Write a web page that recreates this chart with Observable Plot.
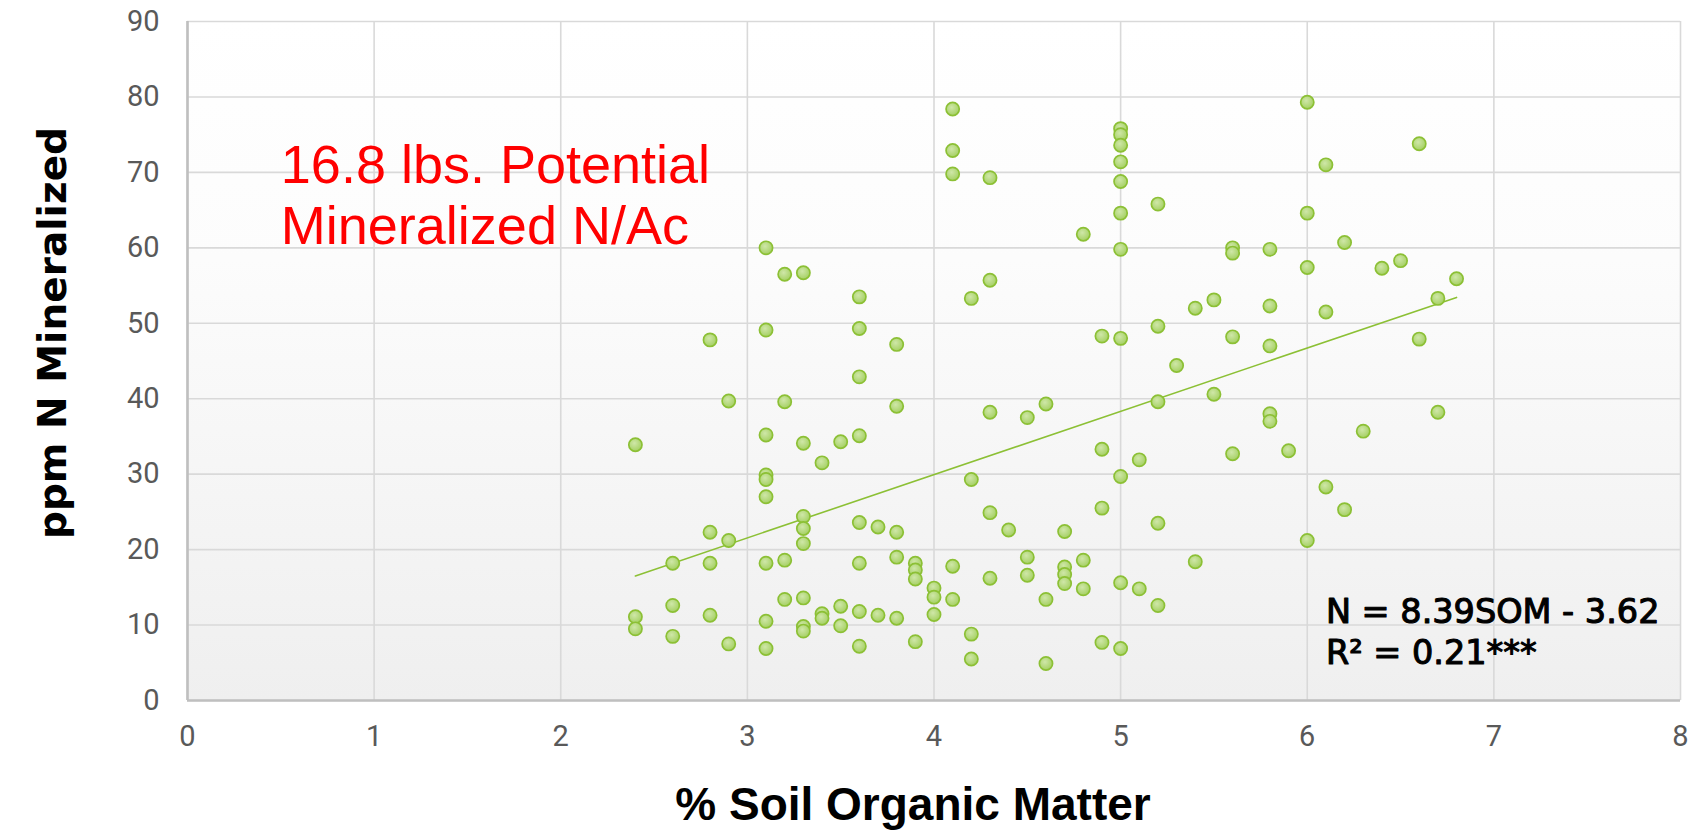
<!DOCTYPE html>
<html>
<head>
<meta charset="utf-8">
<script src="https://cdn.jsdelivr.net/npm/d3@7"></script>
<script src="https://cdn.jsdelivr.net/npm/@observablehq/plot@0.6"></script>
<style>
  html, body { margin: 0; padding: 0; background: #ffffff; overflow: hidden; }
</style>
</head>
<body>
<div id="chart"></div>
<script>
// % soil organic matter (x) for each sample
const somValues = [
  2.4, 2.4, 2.4,
  2.6, 2.6, 2.6,
  2.8, 2.8, 2.8, 2.8,
  2.9, 2.9, 2.9,
  3.1, 3.1, 3.1, 3.1, 3.1, 3.1, 3.1, 3.1, 3.1,
  3.2, 3.2, 3.2, 3.2,
  3.3, 3.3, 3.3, 3.3, 3.3, 3.3, 3.3, 3.3,
  3.4, 3.4, 3.4,
  3.5, 3.5, 3.5,
  3.6, 3.6, 3.6, 3.6, 3.6, 3.6, 3.6, 3.6,
  3.7, 3.7,
  3.8, 3.8, 3.8, 3.8, 3.8,
  3.9, 3.9, 3.9, 3.9,
  4.0, 4.0, 4.0,
  4.1, 4.1, 4.1, 4.1, 4.1,
  4.2, 4.2, 4.2, 4.2,
  4.3, 4.3, 4.3, 4.3, 4.3,
  4.4,
  4.5, 4.5, 4.5,
  4.6, 4.6, 4.6,
  4.7, 4.7, 4.7, 4.7,
  4.8, 4.8, 4.8,
  4.9, 4.9, 4.9, 4.9,
  5.0, 5.0, 5.0, 5.0, 5.0, 5.0, 5.0, 5.0, 5.0, 5.0, 5.0,
  5.1, 5.1,
  5.2, 5.2, 5.2, 5.2, 5.2,
  5.3,
  5.4, 5.4,
  5.5, 5.5,
  5.6, 5.6, 5.6, 5.6,
  5.8, 5.8, 5.8, 5.8, 5.8,
  5.9,
  6.0, 6.0, 6.0, 6.0,
  6.1, 6.1, 6.1,
  6.2, 6.2,
  6.3,
  6.4,
  6.5,
  6.6, 6.6,
  6.7, 6.7,
  6.8
];

// ppm N mineralized (y) for each sample, same order
const ppmValues = [
  33.9, 11.1, 9.5,
  18.2, 12.6, 8.5,
  47.8, 22.3, 18.2, 11.3,
  39.7, 21.2, 7.5,
  60.0, 49.1, 35.2, 29.9, 29.3, 27.0, 18.2, 10.5, 6.9,
  56.5, 39.6, 18.6, 13.4,
  56.7, 34.1, 24.4, 22.8, 20.8, 13.6, 9.8, 9.2,
  31.5, 11.5, 10.9,
  34.3, 12.5, 9.9,
  53.5, 49.3, 42.9, 35.1, 23.6, 18.2, 11.8, 7.2,
  23.0, 11.3,
  47.2, 39.0, 22.3, 19.0, 10.9,
  18.2, 17.3, 16.1, 7.8,
  14.9, 13.7, 11.4,
  78.4, 72.9, 69.8, 17.8, 13.4,
  53.3, 29.3, 8.8, 5.5,
  69.3, 55.7, 38.2, 24.9, 16.2,
  22.6,
  37.5, 19.0, 16.6,
  39.3, 13.4, 4.9,
  22.4, 17.7, 16.7, 15.5,
  61.8, 18.6, 14.8,
  48.3, 33.3, 25.5, 7.7,
  75.8, 75.0, 73.6, 71.4, 68.8, 64.6, 59.8, 48.0, 29.7, 15.6, 6.9,
  31.9, 14.8,
  65.8, 49.6, 39.6, 23.5, 12.6,
  44.4,
  52.0, 18.4,
  53.1, 40.6,
  60.0, 59.3, 48.2, 32.7,
  59.8, 52.3, 47.0, 38.0, 37.0,
  33.1,
  79.3, 64.6, 57.4, 21.2,
  71.0, 51.5, 28.3,
  60.7, 25.3,
  35.7,
  57.3,
  58.3,
  73.8, 47.9,
  53.3, 38.2,
  55.9
];

const xTicks = [0, 1, 2, 3, 4, 5, 6, 7, 8];
const yTicks = [0, 10, 20, 30, 40, 50, 60, 70, 80, 90];

// Regression shown on the chart: N = 8.39 SOM - 3.62
const slope = 8.39;
const intercept = -3.62;

const xTitle = "% Soil Organic Matter";
const yTitle = "ppm N Mineralized";
const noteLines = ["16.8 lbs. Potential", "Mineralized N/Ac"];
const equationLines = ["N = 8.39SOM - 3.62", "R\u00B2 = 0.21***"];

// ---- build tables from the arrays ----
const points = somValues.map((s, i) => ({som: s, n: ppmValues[i]}));
const xExtent = d3.extent(somValues);
const trend = xExtent.map(s => ({som: s, n: slope * s + intercept}));

const svg = Plot.plot({
  width: 1695,
  height: 833,
  marginLeft: 187,
  marginRight: 15,
  marginTop: 21,
  marginBottom: 133,
  style: {background: "#ffffff", fontFamily: "Roboto, sans-serif", overflow: "visible"},
  x: {domain: [0, 8]},
  y: {domain: [0, 90]},
  marks: [
    Plot.frame({fill: "url(#plotBg)", stroke: null}),
    Plot.gridX(xTicks, {stroke: "#d9d9d9", strokeOpacity: 1, strokeWidth: 1.6}),
    Plot.gridY(yTicks, {stroke: "#d9d9d9", strokeOpacity: 1, strokeWidth: 1.6}),
    Plot.ruleX([0], {stroke: "#bfbfbf", strokeWidth: 2.6}),
    Plot.ruleY([0], {stroke: "#bfbfbf", strokeWidth: 2.6}),
    Plot.axisX(xTicks, {tickSize: 0, tickPadding: 25, fontSize: 29, color: "#595959", label: null,
      fontFamily: "Roboto", tickFormat: d => String(d)}),
    Plot.axisY(yTicks, {tickSize: 0, tickPadding: 28, fontSize: 29, color: "#595959", label: null,
      fontFamily: "Roboto", tickFormat: d => String(d)}),
    Plot.line(trend, {x: "som", y: "n", stroke: "#8cc035", strokeWidth: 1.6}),
    Plot.dot(points, {x: "som", y: "n", r: 6.6, fill: "url(#dotFill)", stroke: "#8cc035", strokeWidth: 1.7}),
    Plot.text([noteLines.join("\n")], {
      x: 0.5, y: 74.4, text: d => d, textAnchor: "start", lineAnchor: "top",
      lineHeight: 1.13, fontSize: 54, fill: "#ff0000", fontFamily: "Liberation Sans"
    }),
    Plot.text([equationLines.join("\n")], {
      x: 6.1, y: 14.1, text: d => d, textAnchor: "start", lineAnchor: "top",
      lineHeight: 1.22, fontSize: 33.5, fill: "#000000", stroke: "#000000", strokeWidth: 1.1,
      fontFamily: "DejaVu Sans"
    }),
    Plot.text([xTitle], {
      frameAnchor: "bottom", text: d => d, dx: -21, dy: 105,
      textAnchor: "middle", lineAnchor: "middle",
      fontSize: 46, fontWeight: "bold", fill: "#000000", fontFamily: "Liberation Sans"
    }),
    Plot.text([yTitle], {
      frameAnchor: "left", text: d => d, rotate: -90, dx: -134, dy: -28,
      textAnchor: "middle", lineAnchor: "middle",
      fontSize: 39, fontWeight: "bold", fill: "#000000", fontFamily: "DejaVu Sans"
    })
  ]
});

const ns = "http://www.w3.org/2000/svg";
const defs = document.createElementNS(ns, "defs");
defs.innerHTML =
  '<linearGradient id="plotBg" x1="0" y1="0" x2="0" y2="1">' +
    '<stop offset="0" stop-color="#ffffff"/>' +
    '<stop offset="0.35" stop-color="#fcfcfc"/>' +
    '<stop offset="1" stop-color="#efefef"/>' +
  '</linearGradient>' +
  '<radialGradient id="dotFill" cx="0.42" cy="0.38" r="0.65">' +
    '<stop offset="0" stop-color="#cfe7a8"/>' +
    '<stop offset="1" stop-color="#a3cf60"/>' +
  '</radialGradient>';
svg.insertBefore(defs, svg.firstChild);

document.getElementById("chart").appendChild(svg);
</script>
</body>
</html>
